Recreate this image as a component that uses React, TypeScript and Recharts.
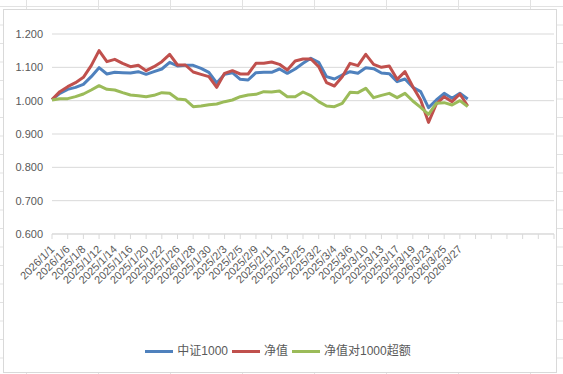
import React from "react";
import { LineChart, Line, XAxis, YAxis, CartesianGrid } from "recharts";

// trading days shown on the category axis (labels as they appear in the sheet)
const dates = [
  "2026/1/1", "2026/1/5", "2026/1/6", "2026/1/7", "2025/1/8", "2025/1/9",
  "2025/1/12", "2025/1/13", "2025/1/14", "2025/1/15", "2025/1/16", "2025/1/19",
  "2025/1/20", "2025/1/21", "2025/1/22", "2025/1/23", "2025/1/26", "2025/1/27",
  "2026/1/28", "2025/1/29", "2025/1/30", "2025/2/2", "2025/2/3", "2025/2/4",
  "2025/2/5", "2025/2/6", "2025/2/9", "2025/2/10", "2025/2/11", "2025/2/12",
  "2025/2/13", "2025/2/24", "2025/2/25", "2025/2/27", "2025/3/2", "2025/3/3",
  "2025/3/4", "2025/3/5", "2025/3/6", "2025/3/9", "2025/3/10", "2025/3/12",
  "2025/3/13", "2025/3/16", "2025/3/17", "2025/3/18", "2025/3/19", "2025/3/20",
  "2026/3/23", "2026/3/24", "2026/3/25", "2026/3/26", "2026/3/27", "2026/3/30",
];

const csi1000 = [
  1.003, 1.022, 1.034, 1.04, 1.049, 1.072, 1.099, 1.08, 1.085, 1.084,
  1.083, 1.087, 1.079, 1.087, 1.095, 1.115, 1.104, 1.106, 1.106, 1.097,
  1.085, 1.053, 1.079, 1.084, 1.064, 1.062, 1.084, 1.085, 1.085, 1.095,
  1.082, 1.095, 1.112, 1.127, 1.115, 1.072, 1.065, 1.077, 1.087, 1.082,
  1.099, 1.096, 1.083, 1.081, 1.057, 1.065, 1.04, 1.027, 0.979, 1.002,
  1.022, 1.007, 1.022, 1.005,
];

const nav = [
  1.003, 1.027, 1.042, 1.054, 1.07, 1.105, 1.15, 1.117, 1.124, 1.112,
  1.102, 1.106, 1.09, 1.102, 1.117, 1.139, 1.107, 1.107, 1.086, 1.079,
  1.072, 1.04, 1.082, 1.09, 1.08, 1.08, 1.112, 1.112, 1.116, 1.109,
  1.092, 1.119, 1.125, 1.125, 1.102, 1.054, 1.044, 1.072, 1.112, 1.105,
  1.139, 1.109, 1.1, 1.104, 1.064, 1.087, 1.042, 1.002, 0.935, 0.99,
  1.012, 0.997, 1.02, 0.984,
];

const excess = [
  1.002, 1.006, 1.006, 1.012, 1.02, 1.032, 1.045, 1.034, 1.032, 1.024,
  1.017, 1.015, 1.012, 1.016, 1.024, 1.022, 1.005, 1.003, 0.982, 0.984,
  0.988, 0.99, 0.997, 1.002, 1.012, 1.017, 1.019, 1.027, 1.026, 1.029,
  1.012, 1.012, 1.026, 1.015, 0.997, 0.984, 0.982, 0.992, 1.025, 1.024,
  1.037, 1.009, 1.016, 1.022, 1.009, 1.022, 0.999, 0.98, 0.959, 0.992,
  0.994, 0.987, 1.0, 0.982,
];

const yTicks = [0.6, 0.7, 0.8, 0.9, 1.0, 1.1, 1.2];

// the source range runs past the data, so the axis keeps some blank slots
const AXIS_SLOTS = 65;

const series = [
  { key: "csi", name: "中证1000", color: "#4F81BD" },
  { key: "nav", name: "净值", color: "#C0504D" },
  { key: "excess", name: "净值对1000超额", color: "#9BBB59" },
];

const rows = Array.from({ length: AXIS_SLOTS }, (_, i) => ({
  idx: i,
  csi: csi1000[i],
  nav: nav[i],
  excess: excess[i],
}));

const FONT = '"Liberation Sans", "Noto Sans CJK SC", sans-serif';
const TEXT = "#595959";

const DateTick = (props: any) => {
  const { x, y, payload } = props;
  const label = dates[payload.value];
  if (!label) return null;
  const ax = x + 3;
  const ay = y + 9;
  return (
    <text
      x={ax}
      y={ay}
      transform={`rotate(-45, ${ax}, ${ay})`}
      textAnchor="end"
      fontSize={11}
      fontFamily={FONT}
      fill={TEXT}
    >
      {label}
    </text>
  );
};

export default function App() {
  return (
    <div
      style={{
        position: "absolute",
        left: 0,
        top: 0,
        width: 563,
        height: 374,
        overflow: "hidden",
        background: "#fff",
        backgroundImage:
          "linear-gradient(to right, #e2e2e2 1px, transparent 1px), linear-gradient(to bottom, #e2e2e2 1px, transparent 1px)",
        backgroundSize: "72px 18.5px",
        backgroundPosition: "26px 6px",
      }}
    >
      {/* chart area frame */}
      <div
        style={{
          position: "absolute",
          left: 3,
          top: 9,
          width: 554,
          height: 364,
          boxSizing: "border-box",
          border: "1px solid #d9d9d9",
          background: "#fff",
        }}
      />
      <div style={{ position: "absolute", left: 0, top: 0 }}>
        <LineChart
          width={563}
          height={374}
          data={rows}
          margin={{ top: 34, right: 9, left: 0, bottom: 80 }}
        >
          <CartesianGrid vertical={false} stroke="#d9d9d9" />
          <XAxis
            dataKey="idx"
            type="category"
            interval={1}
            height={60}
            tick={<DateTick />}
            tickSize={5}
            tickMargin={2}
            stroke="#d9d9d9"
            axisLine={{ stroke: "#d9d9d9" }}
            tickLine={{ stroke: "#d9d9d9" }}
          />
          <YAxis
            width={52}
            domain={[0.6, 1.2]}
            ticks={yTicks}
            axisLine={false}
            tickLine={false}
            tickMargin={3}
            tickFormatter={(v: number) => v.toFixed(3)}
            tick={{ fill: TEXT, fontSize: 11, fontFamily: FONT }}
          />
          {series.map((s) => (
            <Line
              key={s.key}
              dataKey={s.key}
              name={s.name}
              stroke={s.color}
              strokeWidth={3}
              strokeLinejoin="round"
              dot={false}
              activeDot={false}
              isAnimationActive={false}
            />
          ))}
        </LineChart>
      </div>
      {/* legend */}
      <div
        style={{
          position: "absolute",
          left: 3,
          width: 554,
          top: 343,
          display: "flex",
          justifyContent: "center",
          alignItems: "center",
          fontFamily: FONT,
          fontSize: 12,
          color: TEXT,
          lineHeight: "16px",
        }}
      >
        {series.map((s) => (
          <div key={s.key} style={{ display: "flex", alignItems: "center", marginRight: 4 }}>
            <span
              style={{
                display: "inline-block",
                width: 28,
                height: 3,
                background: s.color,
                marginRight: 4,
              }}
            />
            <span>{s.name}</span>
          </div>
        ))}
      </div>
    </div>
  );
}
